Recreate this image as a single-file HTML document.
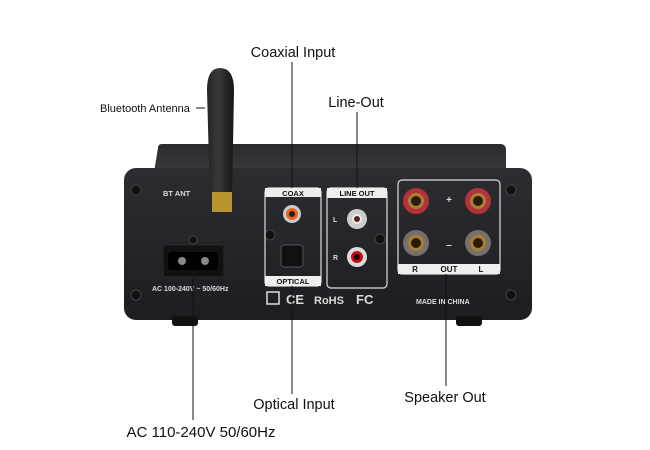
<!DOCTYPE html>
<html><head><meta charset="utf-8"><style>
html,body{margin:0;padding:0;background:#fff;}
svg{display:block;}
text{font-family:"Liberation Sans",sans-serif;}
</style></head><body>
<svg width="650" height="450" viewBox="0 0 650 450" xmlns="http://www.w3.org/2000/svg">
<defs>
<linearGradient id="lid" x1="0" y1="0" x2="0" y2="1"><stop offset="0" stop-color="#2a2b2e"/><stop offset="1" stop-color="#3a3b3f"/></linearGradient>
<linearGradient id="pan" x1="0" y1="0" x2="0" y2="1"><stop offset="0" stop-color="#2c2d30"/><stop offset="1" stop-color="#1c1d20"/></linearGradient>
<linearGradient id="ant" x1="0" y1="0" x2="1" y2="0"><stop offset="0" stop-color="#222"/><stop offset=".4" stop-color="#3a3a3a"/><stop offset="1" stop-color="#161616"/></linearGradient>
</defs>
<path d="M158 148 Q158 144 162 144 L500 144 Q506 144 506 150 L506 172 L154 172 Z" fill="url(#lid)"/>
<rect x="124" y="168" width="408" height="152" rx="12" fill="url(#pan)"/>
<rect x="172" y="316" width="26" height="10" rx="3" fill="#111"/>
<rect x="456" y="316" width="26" height="10" rx="3" fill="#111"/>
<g fill="#111" stroke="#444" stroke-width="1">
<circle cx="136" cy="190" r="5"/><circle cx="136" cy="295" r="5"/><circle cx="511" cy="190" r="5"/><circle cx="511" cy="295" r="5"/>
<circle cx="193" cy="240" r="4"/><circle cx="270" cy="235" r="5"/><circle cx="380" cy="239" r="5"/>
</g>
<path d="M207 90 Q207 68 220 68 Q234 68 234 90 L232 200 L210 200 Z" fill="url(#ant)"/>
<rect x="212" y="192" width="20" height="20" fill="#b8952e"/>
<text x="163" y="196" font-size="7.5" font-weight="bold" fill="#ddd">BT ANT</text>
<rect x="163" y="245" width="61" height="32" fill="#111" stroke="#2a2a2a"/>
<path d="M172 252 L214 252 Q218 252 218 256 L218 266 Q218 270 214 270 L172 270 Q168 270 168 266 L168 256 Q168 252 172 252 Z" fill="#000"/>
<circle cx="182" cy="261" r="4" fill="#888"/><circle cx="205" cy="261" r="4" fill="#888"/>
<text x="152" y="291" font-size="7" font-weight="bold" fill="#ddd">AC 100-240V ~ 50/60Hz</text>
<rect x="265" y="188" width="56" height="98" rx="4" fill="none" stroke="#ddd" stroke-width="1.2"/>
<rect x="265" y="188" width="56" height="9" fill="#eee"/>
<text x="293" y="196" font-size="7.5" font-weight="bold" fill="#111" text-anchor="middle">COAX</text>
<rect x="265" y="276" width="56" height="10" fill="#eee"/>
<text x="293" y="284" font-size="7.5" font-weight="bold" fill="#111" text-anchor="middle">OPTICAL</text>
<circle cx="292" cy="214" r="9" fill="#ccc"/><circle cx="292" cy="214" r="6" fill="#f06020"/><circle cx="292" cy="214" r="3" fill="#222"/>
<rect x="281" y="245" width="22" height="22" rx="3" fill="#111" stroke="#555"/>
<rect x="327" y="188" width="60" height="100" rx="4" fill="none" stroke="#ddd" stroke-width="1.2"/>
<rect x="327" y="188" width="60" height="10" fill="#eee"/>
<text x="357" y="196" font-size="7.5" font-weight="bold" fill="#111" text-anchor="middle">LINE OUT</text>
<text x="333" y="222" font-size="7" font-weight="bold" fill="#ddd">L</text>
<text x="333" y="260" font-size="7" font-weight="bold" fill="#ddd">R</text>
<circle cx="357" cy="219" r="10" fill="#ccc"/><circle cx="357" cy="219" r="5" fill="#eee"/><circle cx="357" cy="219" r="3" fill="#522"/>
<circle cx="357" cy="257" r="10" fill="#ddd"/><circle cx="357" cy="257" r="6" fill="#c01010"/><circle cx="357" cy="257" r="3" fill="#200"/>
<rect x="398" y="180" width="102" height="94" rx="4" fill="none" stroke="#ddd" stroke-width="1.2"/>
<rect x="398" y="264" width="102" height="10" fill="#eee"/>
<text x="415" y="272" font-size="8" font-weight="bold" fill="#111" text-anchor="middle">R</text>
<text x="449" y="272" font-size="8" font-weight="bold" fill="#111" text-anchor="middle">OUT</text>
<text x="481" y="272" font-size="8" font-weight="bold" fill="#111" text-anchor="middle">L</text>
<text x="449" y="203" font-size="10" font-weight="bold" fill="#ddd" text-anchor="middle">+</text>
<text x="449" y="248" font-size="10" font-weight="bold" fill="#ddd" text-anchor="middle">–</text>
<g>
<circle cx="416" cy="201" r="13" fill="#b2333a"/><circle cx="416" cy="201" r="8" fill="#a88035"/><circle cx="416" cy="201" r="5" fill="#2a1a08"/>
<circle cx="478" cy="201" r="13" fill="#b2333a"/><circle cx="478" cy="201" r="8" fill="#a88035"/><circle cx="478" cy="201" r="5" fill="#2a1a08"/>
<circle cx="416" cy="243" r="13" fill="#77706a"/><circle cx="416" cy="243" r="8" fill="#a88035"/><circle cx="416" cy="243" r="5" fill="#2a1a08"/>
<circle cx="478" cy="243" r="13" fill="#77706a"/><circle cx="478" cy="243" r="8" fill="#a88035"/><circle cx="478" cy="243" r="5" fill="#2a1a08"/>
</g>
<rect x="267" y="292" width="12" height="12" fill="none" stroke="#ddd" stroke-width="1.5"/>
<text x="286" y="304" font-size="13" font-weight="bold" fill="#ddd">CE</text>
<text x="314" y="304" font-size="11" font-weight="bold" fill="#ddd">RoHS</text>
<text x="356" y="304" font-size="13" font-weight="bold" fill="#ddd">FC</text>
<text x="416" y="304" font-size="7" font-weight="bold" fill="#ddd">MADE IN CHINA</text>
<g stroke="#111" stroke-width="1">
<line x1="196" y1="108" x2="205" y2="108"/>
<line x1="292" y1="62" x2="292" y2="188"/>
<line x1="357" y1="112" x2="357" y2="188"/>
<line x1="292" y1="286" x2="292" y2="394"/>
<line x1="193" y1="278" x2="193" y2="420"/>
<line x1="446" y1="274" x2="446" y2="386"/>
</g>
<g fill="#111">
<text x="100" y="112" font-size="11">Bluetooth Antenna</text>
<text x="293" y="57" font-size="14.5" text-anchor="middle">Coaxial Input</text>
<text x="356" y="107" font-size="14.5" text-anchor="middle">Line-Out</text>
<text x="294" y="409" font-size="14.5" text-anchor="middle">Optical Input</text>
<text x="445" y="402" font-size="14.5" text-anchor="middle">Speaker Out</text>
<text x="201" y="437" font-size="15" text-anchor="middle">AC 110-240V 50/60Hz</text>
</g>
</svg>
</body></html>
